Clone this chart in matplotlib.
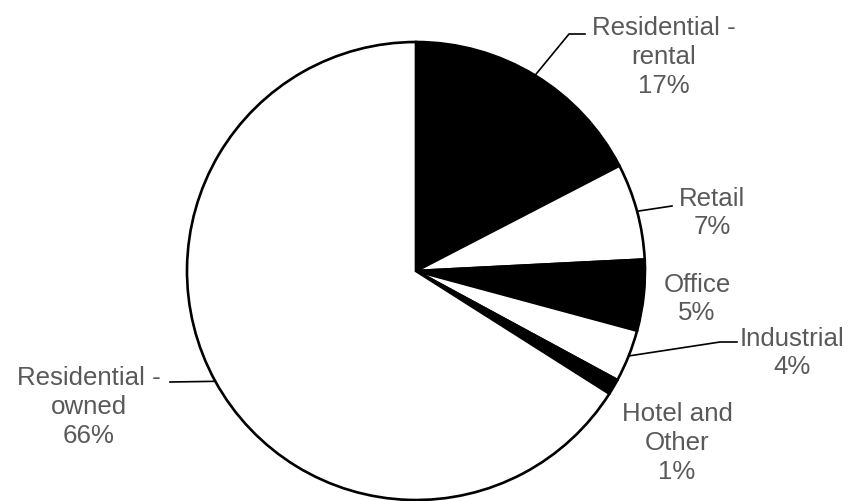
import matplotlib.pyplot as plt
import numpy as np

# shares of the pie, clockwise from 12 o'clock
segments = ['Residential -\nrental', 'Retail', 'Office', 'Industrial',
            'Hotel and\nOther', 'Residential -\nowned']
shares = [17.4, 6.8, 5.0, 3.7, 1.1, 66.0]
pct_labels = ['17%', '7%', '5%', '4%', '1%', '66%']
fills = ['black', 'white', 'black', 'white', 'black', 'white']

H = 502  # figure height in px, used to flip image y to data y

fig = plt.figure(figsize=(8.53, 5.02), dpi=100)
ax = fig.add_axes([0, 0, 1, 1])

cx, cy, r = 416, H - 272, 229
wedges, _ = ax.pie(shares, colors=fills, startangle=90, counterclock=False,
                   center=(cx, cy), radius=r, frame=True,
                   wedgeprops=dict(edgecolor='black', linewidth=1.9))
ax.set_xlim(0, 853)
ax.set_ylim(0, H)
ax.set_aspect('equal')
ax.axis('off')

# label block centres (image px) and leader line bends
label_pos = [(664, 57), (712, 213), (697, 299), (792, 353), (677, 443), (89, 407)]
leaders = {0: [(569, 35), (585, 35)],
           1: [(672, 207)],
           3: [(720, 343), (737, 343)],
           5: [(170, 383)]}

for i, w in enumerate(wedges):
    x, y = label_pos[i]
    ax.text(x, H - y, segments[i] + '\n' + pct_labels[i], ha='center', va='center',
            fontsize=18.6, color='#595959', family='Liberation Sans',
            linespacing=1.26)
    if i in leaders:
        mid = np.deg2rad((w.theta1 + w.theta2) / 2)
        px = [cx + r * np.cos(mid)] + [p[0] for p in leaders[i]]
        py = [cy + r * np.sin(mid)] + [H - p[1] for p in leaders[i]]
        ax.plot(px, py, color='black', linewidth=1.2)

fig.savefig('out.png', dpi=100)
